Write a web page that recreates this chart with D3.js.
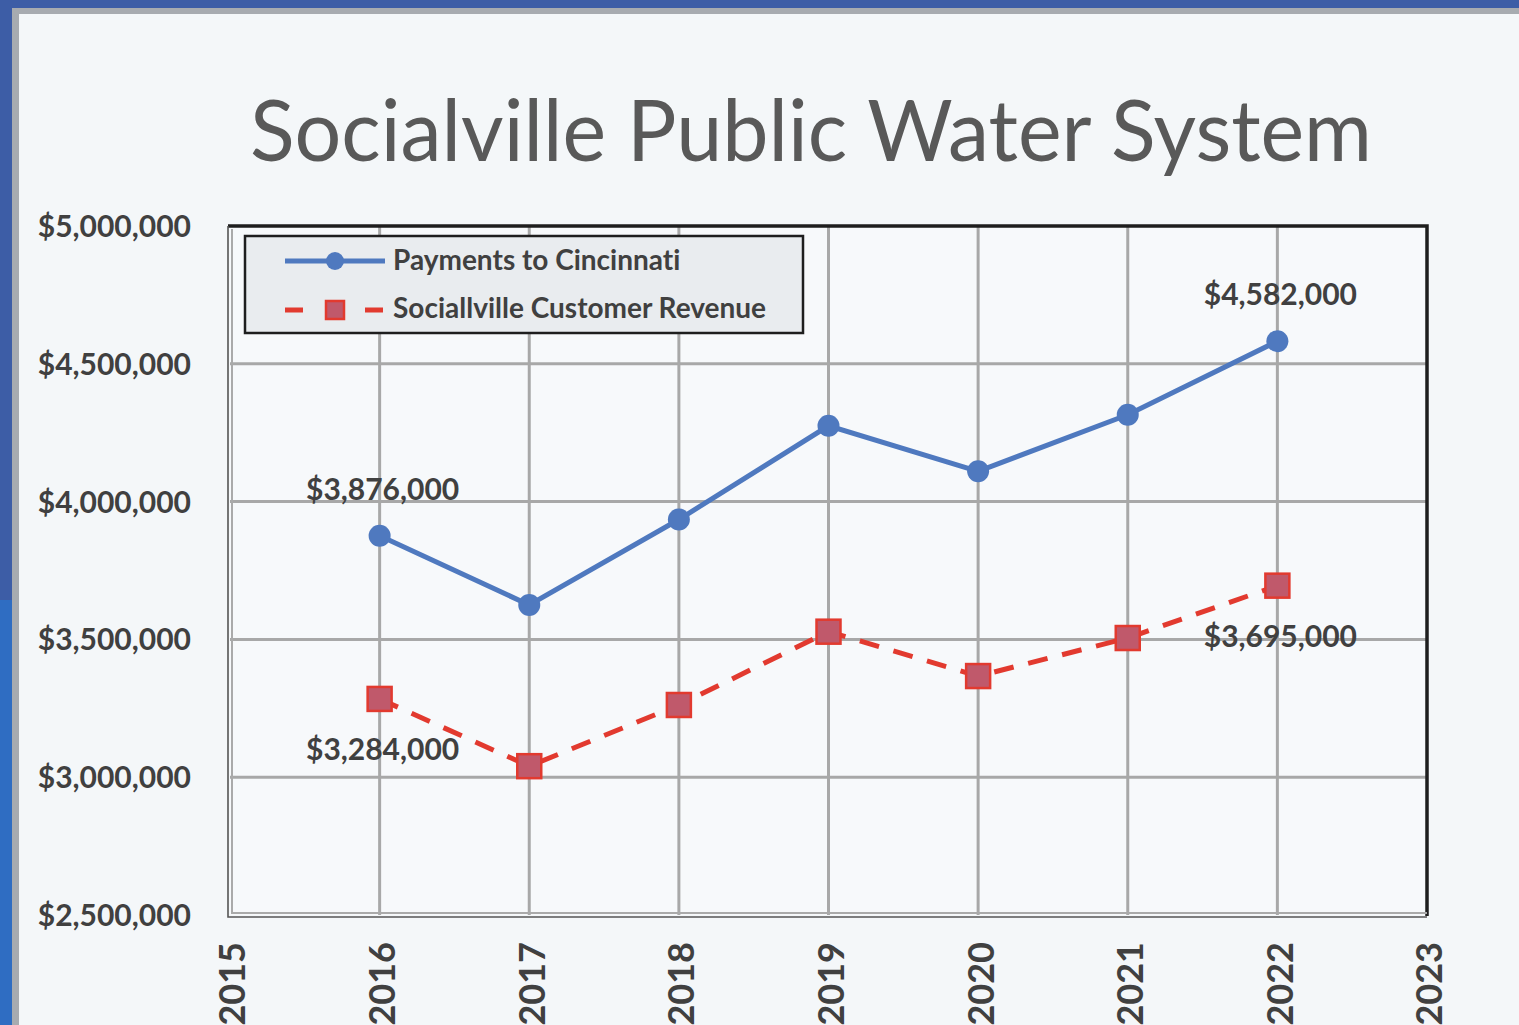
<!DOCTYPE html>
<html>
<head>
<meta charset="utf-8">
<script src="https://cdn.jsdelivr.net/npm/d3@7"></script>
<style>
  html, body { margin: 0; padding: 0; background: #f4f7f9; }
  svg { display: block; }
  text { font-family: Lato, "Open Sans", sans-serif; font-variant-ligatures: none; }
</style>
</head>
<body>
<svg id="chart" width="1519" height="1025"></svg>
<script>
// Years and annual dollar figures
const years = [2016, 2017, 2018, 2019, 2020, 2021, 2022];
const payments = [3876000, 3625000, 3935000, 4275000, 4110000, 4315000, 4582000];
const revenue = [3284000, 3040000, 3262000, 3528000, 3367000, 3505000, 3695000];
const yTicks = [2500000, 3000000, 3500000, 4000000, 4500000, 5000000];
const xTicks = [2015, 2016, 2017, 2018, 2019, 2020, 2021, 2022, 2023];
const seriesNames = ["Payments to Cincinnati", "Sociallville Customer Revenue"];
// Values called out on the chart: [series index, year, placement]
const callouts = [[0, 2016, "above"], [1, 2016, "below"], [0, 2022, "above"], [1, 2022, "below"]];

const svg = d3.select("#chart");
const W = 1519, H = 1025;

// slide frame
svg.append("rect").attr("width", W).attr("height", H).attr("fill", "#3d5da6");
svg.append("rect").attr("x", 0).attr("y", 600).attr("width", 14).attr("height", H - 600).attr("fill", "#2f6dc2");
svg.append("rect").attr("x", 12).attr("y", 8).attr("width", W).attr("height", H).attr("fill", "#a7abb0");
svg.append("rect").attr("x", 19).attr("y", 14).attr("width", W).attr("height", H).attr("fill", "#f4f7f9");

svg.append("text")
  .attr("x", 250).attr("y", 161)
  .attr("textLength", 1122).attr("lengthAdjust", "spacingAndGlyphs")
  .attr("font-size", 86).attr("fill", "#595959")
  .text("Socialville Public Water System");

const x = d3.scaleLinear().domain([2015, 2023]).range([230, 1427]);
const y = d3.scaleLinear().domain([2500000, 5000000]).range([915, 226]);

const plot = svg.append("g");
plot.append("rect")
  .attr("x", x(2015)).attr("y", y(5000000))
  .attr("width", x(2023) - x(2015)).attr("height", y(2500000) - y(5000000))
  .attr("fill", "#f7f9fb");

// gridlines
plot.append("g").selectAll("line").data(yTicks.slice(1, -1)).join("line")
  .attr("x1", x(2015)).attr("x2", x(2023))
  .attr("y1", d => y(d)).attr("y2", d => y(d))
  .attr("stroke", "#a8a8a8").attr("stroke-width", 3);
plot.append("g").selectAll("line").data(xTicks.slice(1, -1)).join("line")
  .attr("x1", d => x(d)).attr("x2", d => x(d))
  .attr("y1", y(5000000)).attr("y2", y(2500000))
  .attr("stroke", "#a8a8a8").attr("stroke-width", 3);

// plot border: dark top/right, grey double left/bottom
const x0 = x(2015), x1 = x(2023), yT = y(5000000), yB = y(2500000);
plot.append("path").attr("d", `M${x0 - 2},${yT} H${x1} V${yB + 1}`)
  .attr("fill", "none").attr("stroke", "#1e1e1e").attr("stroke-width", 3.5);
plot.append("path").attr("d", `M${x0 - 2},${yT} V${yB + 2} H${x1}`)
  .attr("fill", "none").attr("stroke", "#555").attr("stroke-width", 1.6);
plot.append("path").attr("d", `M${x0 + 2},${yT + 3} V${yB - 2} H${x1}`)
  .attr("fill", "none").attr("stroke", "#aaa").attr("stroke-width", 2);

// axes
const yAxis = d3.axisLeft(y).tickValues(yTicks).tickSize(0).tickPadding(0)
  .tickFormat(d => "$" + d3.format(",")(d));
const gy = svg.append("g").attr("transform", "translate(191,0)").call(yAxis);
gy.select(".domain").remove();
gy.selectAll("text").attr("font-size", 30).attr("font-weight", "bold")
  .attr("fill", "#404040").attr("dy", "0.35em")
  .style("font-family", "Lato, sans-serif");

const xAxis = d3.axisBottom(x).tickValues(xTicks).tickSize(0).tickFormat(d3.format("d"));
const gx = svg.append("g").attr("transform", `translate(0,${yB})`).call(xAxis);
gx.select(".domain").remove();
gx.selectAll("text")
  .attr("transform", "translate(2,27) rotate(-90)")
  .attr("text-anchor", "end").attr("x", 0).attr("y", 0).attr("dy", "0.36em")
  .attr("font-size", 36).attr("font-weight", "bold").attr("fill", "#404040")
  .style("font-family", "Lato, sans-serif");

// series
const blue = "#4f79bf", red = "#e23a2f";
const line = d3.line().x((d, i) => x(years[i])).y(d => y(d));

svg.append("path").datum(revenue).attr("d", line)
  .attr("fill", "none").attr("stroke", red).attr("stroke-width", 5)
  .attr("stroke-dasharray", "20 15");
svg.append("path").datum(payments).attr("d", line)
  .attr("fill", "none").attr("stroke", blue).attr("stroke-width", 5);

const sq = 24;
svg.append("g").selectAll("rect").data(revenue).join("rect")
  .attr("x", (d, i) => x(years[i]) - sq / 2).attr("y", d => y(d) - sq / 2)
  .attr("width", sq).attr("height", sq)
  .attr("fill", "#c0596b").attr("stroke", red).attr("stroke-width", 2.5);
svg.append("g").selectAll("circle").data(payments).join("circle")
  .attr("cx", (d, i) => x(years[i])).attr("cy", d => y(d)).attr("r", 11)
  .attr("fill", blue);

// value callouts
const series = [payments, revenue];
svg.append("g").selectAll("text").data(callouts).join("text")
  .attr("x", d => x(d[1]) + 3)
  .attr("y", d => {
    const v = series[d[0]][years.indexOf(d[1])];
    return d[2] === "above" ? y(v) - 36 : y(v) + 61;
  })
  .attr("text-anchor", "middle")
  .attr("font-size", 30).attr("font-weight", "bold").attr("fill", "#404040")
  .text(d => "$" + d3.format(",")(series[d[0]][years.indexOf(d[1])]));

// legend
const lg = svg.append("g");
lg.append("rect").attr("x", 245).attr("y", 236).attr("width", 558).attr("height", 97)
  .attr("fill", "#e9ecef").attr("stroke", "#1e1e1e").attr("stroke-width", 2.5);
lg.append("line").attr("x1", 285).attr("x2", 385).attr("y1", 261).attr("y2", 261)
  .attr("stroke", blue).attr("stroke-width", 5);
lg.append("circle").attr("cx", 335).attr("cy", 261).attr("r", 9).attr("fill", blue);
lg.append("line").attr("x1", 285).attr("x2", 385).attr("y1", 310).attr("y2", 310)
  .attr("stroke", red).attr("stroke-width", 5).attr("stroke-dasharray", "18 22");
lg.append("rect").attr("x", 326).attr("y", 301).attr("width", 18).attr("height", 18)
  .attr("fill", "#c0596b").attr("stroke", red).attr("stroke-width", 2.5);
lg.selectAll("text.lbl").data(seriesNames).join("text").attr("class", "lbl")
  .attr("x", 393).attr("y", (d, i) => 270 + i * 48)
  .attr("font-size", 28).attr("font-weight", "bold").attr("fill", "#404040")
  .text(d => d);
</script>
</body>
</html>
